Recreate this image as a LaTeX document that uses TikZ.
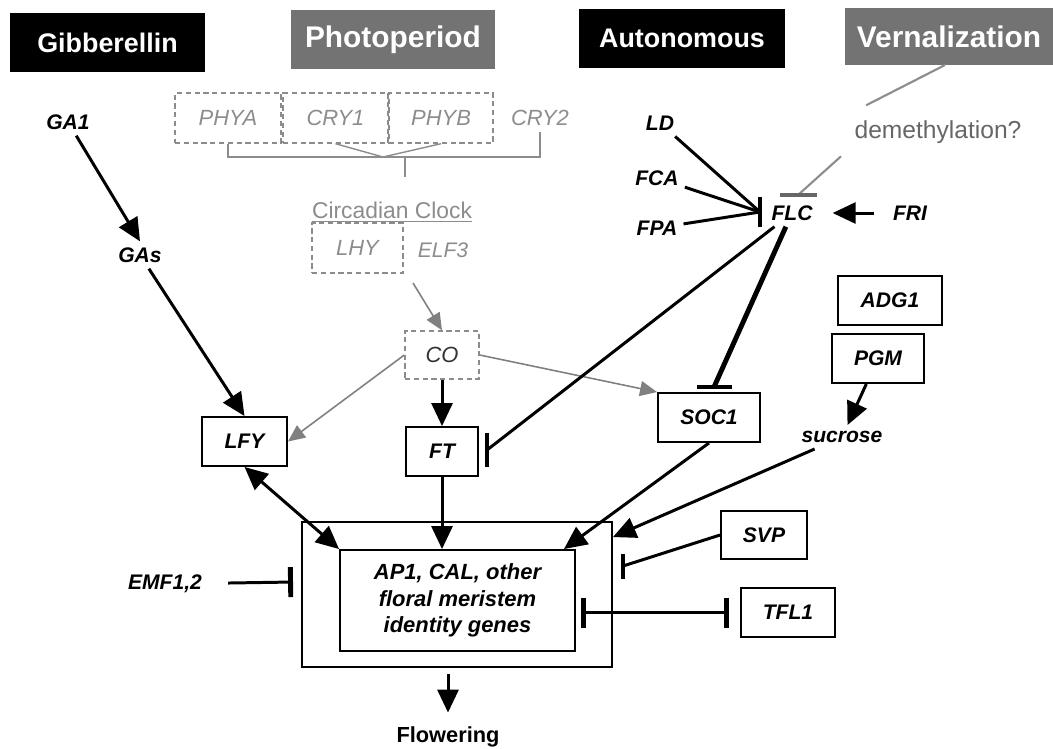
\documentclass[tikz,border=0pt]{standalone}
\usepackage{fontspec}
\setmainfont{Liberation Sans}
\usetikzlibrary{arrows.meta,calc}

\begin{document}
\begin{tikzpicture}[x=0.02cm,y=-0.02cm,
  gene/.style={font=\fontsize{12}{14}\selectfont\bfseries\itshape},
  genebox/.style={gene,draw,line width=1.1pt,inner sep=0pt,minimum height=0.98cm},
  faintgene/.style={font=\fontsize{12.5}{14}\selectfont\itshape,text=black!45},
  faintbox/.style={faintgene,draw=black!45,densely dashed,line width=0.8pt,inner sep=0pt,minimum height=1cm},
  faint/.style={draw=black!45,line width=0.8pt},
  pathway/.style={font=\fontsize{15.3}{18}\selectfont\bfseries,text=white,inner sep=0pt,minimum height=1.17cm},
  greypathway/.style={pathway,fill=black!55,font=\fontsize{17}{20}\selectfont\bfseries},
  act/.style={-{Triangle[length=0.46cm,width=0.42cm]},line width=1.7pt},
  weak/.style={-{Triangle[length=0.34cm,width=0.3cm]},draw=black!50,line width=0.9pt},
  inhib/.style={line width=1.7pt},
  blockbar/.style={line width=2.8pt}]

\useasboundingbox (0,0) rectangle (1053,748);

% the four pathways
\node[pathway,fill=black,minimum width=3.9cm] (gib) at (107.5,42.5) {Gibberellin};
\node[greypathway,minimum width=4.08cm] (photo) at (393,39.5) {Photoperiod};
\node[pathway,fill=black,minimum width=4.14cm] (auton) at (682,38.5) {Autonomous};
\node[greypathway,minimum width=4.16cm,minimum height=1.14cm] (vern) at (949,36.5) {Vernalization};

% gibberellin
\node[gene] (ga1) at (68,122) {GA1};
\node[gene] (gas) at (140,255) {GAs};
\draw[act] (ga1) -- (gas.north);

% photoperiod
\node[faintbox,minimum width=2.12cm] (phya) at (228,118) {PHYA};
\node[faintbox,minimum width=2.1cm] (cry1) at (335.5,118) {CRY1};
\node[faintbox,minimum width=2.08cm] (phyb) at (441,118) {PHYB};
\node[faintgene] (cry2) at (540,118) {CRY2};
\coordinate (merge) at (383,157);
\coordinate (tick) at (405,157);
\draw[faint] (phya.south) -- (phya.south |- merge) -| (cry2.south);
\draw[faint] (cry1.south) -- (merge) -- (phyb.south);
\draw[faint] (tick) -- ++(0,20);
\node[font=\fontsize{13}{15}\selectfont,text=black!45] (clock) at (392,212) {\underline{Circadian Clock}};
\node[faintbox,minimum width=1.82cm] (lhy) at (357.5,248) {LHY};
\node[faintgene,font=\fontsize{12}{14}\selectfont\itshape] (elf3) at (443,250) {ELF3};
\coordinate (clockout) at (413,283);
\node[faintbox,text=black!80,minimum width=1.48cm,minimum height=0.96cm] (co) at (442,355) {CO};
\draw[weak] (clockout) -- (co.north);

% autonomous and vernalization
\node[gene] (ld) at (660,123) {LD};
\node[gene] (fca) at (657,178) {FCA};
\node[gene] (fpa) at (657,228) {FPA};
\node[gene] (flc) at (792,213) {FLC};
\node[gene] (fri) at (910,213) {FRI};
\coordinate (flcbar) at (760,212);
\draw[inhib] (ld) -- (flcbar);
\draw[inhib] (fca) -- (flcbar);
\draw[inhib] (fpa) -- (flcbar);
\draw[blockbar] (flcbar) ++(0,-15) -- ++(0,30);
\draw[act,shorten <=0.26cm,shorten >=0.28cm] (fri) -- (flc);
\node[font=\fontsize{14}{16}\selectfont,text=black!60] (demeth) at (938,132) {demethylation?};
\coordinate (vernfoot) at (945,65);
\coordinate (demethbar) at (798,195);
\draw[faint,line width=1.2pt,shorten >=0.4cm] (vernfoot) -- (demeth.north west);
\draw[faint,line width=1.2pt,shorten <=0.2cm] (demeth.south west) -- (demethbar);
\draw[draw=black!60,line width=2.4pt] (demethbar) ++(-18,0) -- ++(37,0);

% floral integrators
\node[genebox,minimum width=1.7cm] (lfy) at (244.5,441.5) {LFY};
\node[genebox,minimum width=1.44cm] (ft) at (442,451.5) {FT};
\node[genebox,minimum width=2.04cm] (soc1) at (709,417.5) {SOC1};
\draw[act] (gas) -- (lfy.north);
\draw[act] (co) -- (ft);
\draw[weak] (co.west) -- (lfy.east);
\draw[weak] (co.east) -- (soc1.north west);
\coordinate (ftbar) at (487,450);
\draw[inhib] (flc) -- (ftbar);
\draw[blockbar] (ftbar) ++(0,-17) -- ++(0,34);
\coordinate (socbar) at (714,387);
\draw[line width=2.8pt] (flc) -- (socbar);
\draw[blockbar] (socbar) ++(-17,0) -- ++(35,0);

% starch
\node[genebox,minimum width=2.08cm] (adg1) at (890,300.5) {ADG1};
\node[genebox,minimum width=1.84cm] (pgm) at (878,358.5) {PGM};
\node[gene] (sucrose) at (842,437) {sucrose};
\draw[act] (pgm) -- (sucrose);

% meristem identity
\node[draw,line width=1.1pt,minimum width=6.2cm,minimum height=2.9cm] (outer) at (457,594.5) {};
\node[genebox,font=\fontsize{12.5}{15}\selectfont\bfseries\itshape,align=center,minimum width=4.7cm,minimum height=2.02cm] (inner) at (457.5,600.5) {AP1, CAL, other\\floral meristem\\identity genes};
\draw[act] (ft.south) -- (ft.south |- inner.north);
\draw[act,{Triangle[length=0.46cm,width=0.42cm]}-{Triangle[length=0.46cm,width=0.42cm]}] (lfy.south) -- (inner.north west);
\draw[act] (soc1.south) -- ($(inner.north east)+(-12,0)$);
\draw[act] (sucrose) -- ($(outer.north east)+(0,16)$);

\node[gene] (emf) at (165,584) {EMF1,2};
\coordinate (emfbar) at (293,582);
\draw[inhib,-{Bar[width=0.6cm,line width=2.8pt]},shorten <=0.4cm] (emf) -- (emfbar);

\node[genebox,minimum width=1.72cm,minimum height=0.96cm] (svp) at (764,535) {SVP};
\coordinate (svpbar) at (623,566);
\draw[inhib] (svp.west) -- (svpbar);
\draw[blockbar] (svpbar) ++(0,-12) -- ++(0,25);

\node[genebox,minimum width=1.88cm] (tfl1) at (788,612.5) {TFL1};
\draw[inhib,{Bar[width=0.6cm,line width=2.8pt]}-{Bar[width=0.6cm,line width=2.8pt]},shorten <=0.1cm,shorten >=0.22cm] (inner.east |- tfl1) -- (tfl1.west);

\node[font=\fontsize{12.4}{14}\selectfont\bfseries] (flower) at (448,737) {Flowering};
\draw[act,shorten <=0.12cm,shorten >=0.16cm] (outer.south -| flower) -- (flower);
\end{tikzpicture}
\end{document}
